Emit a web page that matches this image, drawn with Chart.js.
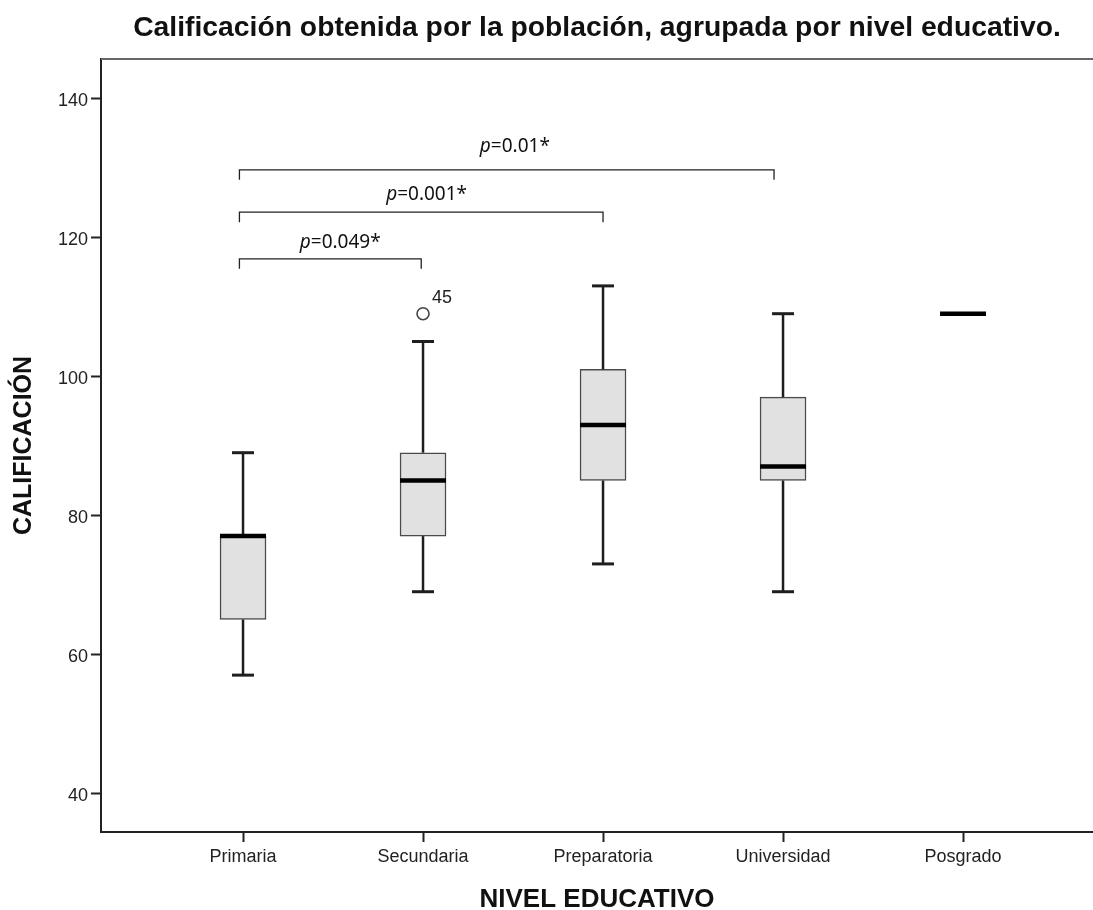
<!DOCTYPE html>
<html lang="es">
<head>
  <meta charset="UTF-8">
  <title>Calificación por nivel educativo</title>
  <style>
    body { margin:0; background:#fff; }
    #wrap { width:1093px; height:910px; }
  </style>
</head>
<body>
<div id="wrap"><canvas id="boxChart" width="1093" height="910"></canvas></div>
<script src="https://cdn.jsdelivr.net/npm/chart.js"></script>
<script>
// datos
const niveles = ['Primaria', 'Secundaria', 'Preparatoria', 'Universidad', 'Posgrado'];
const minimos  = [57, 69, 73, 69, 109];
const q1       = [65, 77, 85, 85, 109];
const medianas = [77, 85, 93, 87, 109];
const q3       = [77, 89, 101, 97, 109];
const maximos  = [89, 105, 113, 109, 109];
// valor atípico
const atipicoNivel = [1];
const atipicoValor = [109];
const atipicoCaso = ['45'];
const yTicks = [40, 60, 80, 100, 120, 140];
// comparaciones (posiciones en índice de categoría)
const compDesde  = [-0.02, -0.02, -0.02];
const compHasta  = [0.99, 2.0, 2.95];
const compAltura = [116.9, 123.6, 129.7];
const compTextoX = [0.54, 1.02, 1.51];
const compTextoY = [119.3, 126.2, 133.0];
const compValor  = ['=0.049*', '=0.001*', '=0.01*'];

const tickFont = { family: 'Liberation Sans, Arial, sans-serif', size: 18 };

// bigotes, medianas, corchetes de p y etiqueta del atípico
const cajasPlugin = {
  id: 'cajas',
  afterDatasetsDraw(chart) {
    const { ctx, chartArea, scales: { x, y } } = chart;
    const barras = chart.getDatasetMeta(0).data;
    ctx.save();
    // borde superior del marco
    ctx.strokeStyle = '#666';
    ctx.lineWidth = 2;
    ctx.beginPath();
    ctx.moveTo(chartArea.left, chartArea.top);
    ctx.lineTo(chartArea.right, chartArea.top);
    ctx.stroke();

    niveles.forEach((n, i) => {
      const cx = x.getPixelForValue(i);
      const half = barras[i].width / 2;
      ctx.strokeStyle = '#1e1e1e';
      ctx.lineWidth = 2.5;
      if (maximos[i] > q3[i]) {
        ctx.beginPath();
        ctx.moveTo(cx, y.getPixelForValue(q3[i]));
        ctx.lineTo(cx, y.getPixelForValue(maximos[i]));
        ctx.stroke();
        ctx.lineWidth = 3;
        ctx.beginPath();
        ctx.moveTo(cx - 11, y.getPixelForValue(maximos[i]));
        ctx.lineTo(cx + 11, y.getPixelForValue(maximos[i]));
        ctx.stroke();
      }
      ctx.lineWidth = 2.5;
      if (minimos[i] < q1[i]) {
        ctx.beginPath();
        ctx.moveTo(cx, y.getPixelForValue(q1[i]));
        ctx.lineTo(cx, y.getPixelForValue(minimos[i]));
        ctx.stroke();
        ctx.lineWidth = 3;
        ctx.beginPath();
        ctx.moveTo(cx - 11, y.getPixelForValue(minimos[i]));
        ctx.lineTo(cx + 11, y.getPixelForValue(minimos[i]));
        ctx.stroke();
      }
      // mediana
      ctx.strokeStyle = '#000';
      ctx.lineWidth = 4.5;
      ctx.beginPath();
      ctx.moveTo(cx - half, y.getPixelForValue(medianas[i]));
      ctx.lineTo(cx + half, y.getPixelForValue(medianas[i]));
      ctx.stroke();
    });

    // corchetes de comparación
    ctx.strokeStyle = '#222';
    ctx.lineWidth = 1.3;
    ctx.fillStyle = '#111';
    ctx.textBaseline = 'middle';
    compAltura.forEach((v, k) => {
      const x0 = x.getPixelForValue(compDesde[k]);
      const x1 = x.getPixelForValue(compHasta[k]);
      const yy = y.getPixelForValue(v);
      ctx.beginPath();
      ctx.moveTo(x0, yy + 10);
      ctx.lineTo(x0, yy);
      ctx.lineTo(x1, yy);
      ctx.lineTo(x1, yy + 10);
      ctx.stroke();
      const fIt = 'italic 19px "Noto Sans", sans-serif';
      const fN = '19px "Noto Sans", sans-serif';
      ctx.font = fIt;
      const wp = ctx.measureText('p').width;
      ctx.font = fN;
      const wr = ctx.measureText(compValor[k]).width;
      let tx = x.getPixelForValue(compTextoX[k]) - (wp + wr) / 2;
      const ty = y.getPixelForValue(compTextoY[k]);
      ctx.textAlign = 'left';
      ctx.font = fIt;
      ctx.fillText('p', tx, ty);
      ctx.font = fN;
      ctx.fillText(compValor[k], tx + wp, ty);
    });

    // número de caso del atípico
    ctx.font = '18px "Liberation Sans", Arial, sans-serif';
    ctx.textBaseline = 'alphabetic';
    ctx.fillStyle = '#222';
    atipicoNivel.forEach((lv, k) => {
      ctx.fillText(atipicoCaso[k], x.getPixelForValue(lv) + 9, y.getPixelForValue(atipicoValor[k]) - 11);
    });
    ctx.restore();
  }
};

new Chart(document.getElementById('boxChart'), {
  type: 'bar',
  data: {
    datasets: [{
      label: 'Caja',
      data: niveles.map((n, i) => ({ x: i, y: [q1[i], q3[i]] })),
      backgroundColor: '#e1e1e1',
      borderColor: '#4a4a4a',
      borderWidth: 1.5,
      borderSkipped: false,
      barThickness: 46
    }, {
      type: 'scatter',
      label: 'Atípico',
      data: atipicoNivel.map((lv, k) => ({ x: lv, y: atipicoValor[k] })),
      pointRadius: 6,
      pointBackgroundColor: '#fff',
      pointBorderColor: '#444',
      pointBorderWidth: 1.6
    }]
  },
  options: {
    responsive: false,
    animation: false,
    layout: { padding: 0, autoPadding: false },
    plugins: {
      legend: { display: false },
      tooltip: { enabled: false },
      title: {
        display: true,
        fullSize: false,
        text: 'Calificación obtenida por la población, agrupada por nivel educativo.',
        color: '#111',
        font: { family: 'Liberation Sans, Arial, sans-serif', size: 28.3, weight: 'bold', lineHeight: 1.2 },
        padding: { top: 11, bottom: 14 }
      }
    },
    scales: {
      x: {
        type: 'linear',
        min: -0.789,
        max: 4.722,
        offset: false,
        afterFit(s) { s.height = 78; },
        afterBuildTicks(s) { s.ticks = niveles.map((n, i) => ({ value: i })); },
        ticks: { callback: v => niveles[v], color: '#222', font: tickFont, padding: 4, maxRotation: 0, autoSkip: false },
        grid: { offset: false, drawOnChartArea: false, tickLength: 10, tickWidth: 2, tickColor: '#222' },
        border: { color: '#222', width: 2 },
        title: {
          display: true,
          text: 'NIVEL EDUCATIVO',
          color: '#111',
          font: { family: 'Liberation Sans, Arial, sans-serif', size: 26, weight: 'bold', lineHeight: 1 },
          padding: { top: 0, bottom: -3 }
        }
      },
      y: {
        min: 34.43,
        max: 145.65,
        afterFit(s) { s.width = 101; },
        afterBuildTicks(s) { s.ticks = yTicks.map(v => ({ value: v })); },
        ticks: { color: '#222', font: tickFont, padding: 3, labelOffset: 3 },
        grid: { drawOnChartArea: false, tickLength: 10, tickWidth: 2, tickColor: '#222' },
        border: { color: '#222', width: 2 },
        title: {
          display: true,
          text: 'CALIFICACIÓN',
          color: '#111',
          font: { family: 'Liberation Sans, Arial, sans-serif', size: 25, weight: 'bold', lineHeight: 1 },
          padding: { top: 11.5, bottom: 0 }
        }
      }
    }
  },
  plugins: [cajasPlugin]
});
</script>
</body>
</html>
